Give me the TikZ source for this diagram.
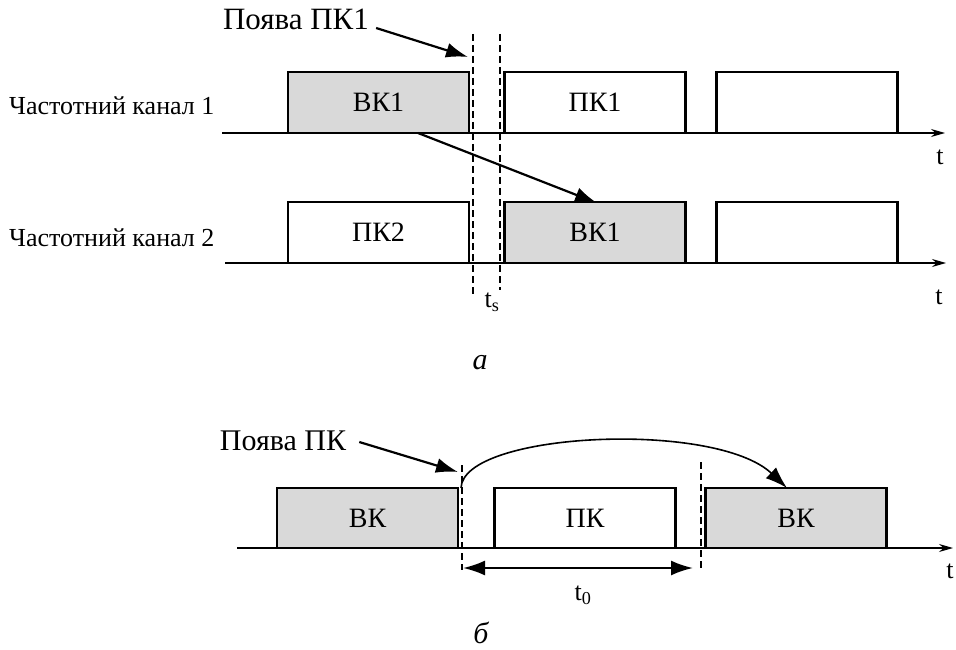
\documentclass[tikz,border=0pt]{standalone}
\usepackage{fontspec}
\setmainfont{Liberation Serif}
\usetikzlibrary{arrows.meta}
\definecolor{boxgray}{HTML}{D9D9D9}
\tikzset{
  slot/.style={draw, line width=2.6pt, minimum width=181pt, minimum height=61pt, inner sep=0pt, font=\fontsize{28}{28}\selectfont},
  grayslot/.style={slot, fill=boxgray},
  axisline/.style={line width=1.3pt, -{Stealth[length=14pt,width=8pt]}},
  guide/.style={line width=1.4pt, dash pattern=on 7pt off 4pt},
  pointer/.style={line width=2.2pt, -{Latex[length=22pt,width=15pt]}},
  lbl/.style={font=\fontsize{26}{26}\selectfont, inner sep=0pt},
  tlbl/.style={font=\fontsize{26}{26}\selectfont, inner sep=0pt},
  caplbl/.style={font=\itshape\fontsize{30}{30}\selectfont, inner sep=0pt},
}
\begin{document}
\begin{tikzpicture}[x=1pt,y=-1pt]
\useasboundingbox (0,0) rectangle (956,650);
% ---------- part a ----------
\node[lbl, anchor=west] (ch1) at (9,106) {Частотний канал 1};
\node[lbl, anchor=west] (ch2) at (9,238) {Частотний канал 2};
\coordinate (a1s) at (222,133);
\coordinate (a1e) at (945,133);
\coordinate (a2s) at (225,263);
\coordinate (a2e) at (946,263);
\draw[axisline] (a1s) -- (a1e);
\draw[axisline] (a2s) -- (a2e);
\node[tlbl] (t1) at (940,157) {t};
\node[tlbl] (t2) at (939,297) {t};
% boxes row 1
\node[grayslot] (vk1a) at (378.5,102.5) {ВК1};
\node[slot] (pk1) at (595,102.5) {ПК1};
\node[slot] (e1) at (807,102.5) {};
% boxes row 2
\node[slot] (pk2) at (378.5,232.5) {ПК2};
\node[grayslot] (vk1b) at (595,232.5) {ВК1};
\node[slot] (e2) at (807,232.5) {};
% dashed guides
\coordinate (d1t) at (473,34);
\coordinate (d1b) at (473,297);
\coordinate (d2t) at (500,34);
\coordinate (d2b) at (500,290);
\draw[guide] (d1t) -- (d1b);
\draw[guide] (d2t) -- (d2b);
\node[tlbl] (ts) at (492,302) {t\textsubscript{s}};
% appearance label
\node[font=\fontsize{31}{31}\selectfont, inner sep=0pt] (pv1) at (296,19) {Поява ПК1};
\coordinate (pv1tip) at (468,57);
\draw[pointer] (pv1.east) ++(7,9) -- (pv1tip);
% transfer arrow
\coordinate (vkfrom) at (418,133);
\coordinate (vkto) at (597,203);
\draw[pointer] (vkfrom) -- (vkto);
\node[caplbl] (capa) at (480,363) {а};
% ---------- part b ----------
\coordinate (b1s) at (237,548);
\coordinate (b1e) at (953,548);
\draw[axisline] (b1s) -- (b1e);
\node[tlbl] (t3) at (950,571) {t};
\node[grayslot, minimum height=60pt] (vkb1) at (367.5,518) {ВК};
\node[slot, minimum height=60pt] (pkb) at (585,518) {ПК};
\node[grayslot, minimum height=60pt] (vkb2) at (796,518) {ВК};
\coordinate (d3t) at (462,465);
\coordinate (d3b) at (462,570);
\coordinate (d4t) at (701,462);
\coordinate (d4b) at (701,568);
\draw[guide] (d3t) -- (d3b);
\draw[guide] (d4t) -- (d4b);
\coordinate (t0l) at (463,568);
\coordinate (t0r) at (693,568);
\draw[line width=2.2pt, {Latex[length=22pt,width=15pt]}-{Latex[length=22pt,width=15pt]}] (t0l) -- (t0r);
\node[tlbl] (t0) at (583,595) {t\textsubscript{0}};
\node[font=\fontsize{30}{30}\selectfont, inner sep=0pt] (pv2) at (283,441) {Поява ПК};
\coordinate (pv2tip) at (458,472);
\draw[pointer] (pv2.east) ++(13,1) -- (pv2tip);
\coordinate (cs) at (461,488);
\coordinate (ce) at (787,488);
\draw[line width=1.6pt, -{Latex[length=22pt,width=15pt]}] (cs) .. controls (463,432) and (715,420) .. (ce);
\node[caplbl] (capb) at (481,633) {б};
\end{tikzpicture}
\end{document}
